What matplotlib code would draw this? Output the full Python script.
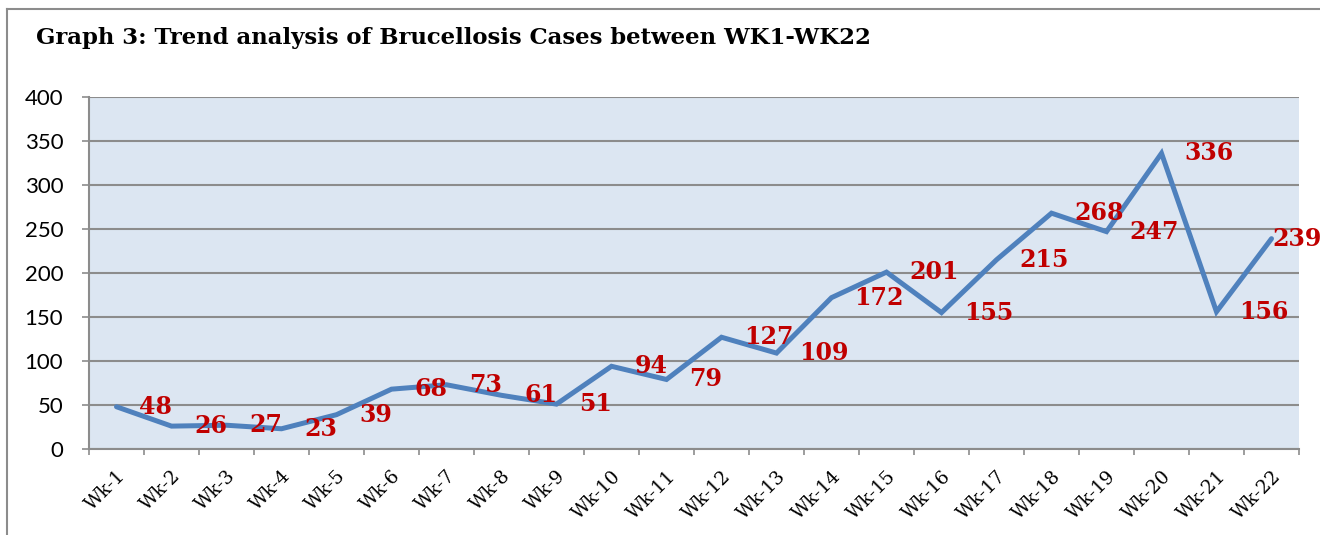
import matplotlib
matplotlib.use("Agg")
import matplotlib.pyplot as plt
from matplotlib.lines import Line2D

weeks = [f"Wk-{i}" for i in range(1, 23)]
cases = [48, 26, 27, 23, 39, 68, 73, 61, 51, 94, 79, 127, 109, 172, 201, 155,
         215, 268, 247, 336, 156, 239]
# data labels as shown in the reference (offset to the right of each point)
labels = ["48", "26", "27", "23", "39", "68", "73", "61", "51", "94", "79", "127",
          "109", "172", "201", "155", "215", "268", "247", "336", "156", "239"]
yticks = [0, 50, 100, 150, 200, 250, 300, 350, 400]
title = "Graph 3: Trend analysis of Brucellosis Cases between WK1-WK22"

W, H = 1320, 535
fig = plt.figure(figsize=(W / 100, H / 100), dpi=100)
fig.patch.set_facecolor("white")

# outer frame (left and top)
fig.add_artist(Line2D([7 / W, 7 / W], [0, 1 - 9 / H], transform=fig.transFigure,
                      color="#8c8c8c", lw=1.5))
fig.add_artist(Line2D([7 / W, 1], [1 - 9 / H, 1 - 9 / H], transform=fig.transFigure,
                      color="#8c8c8c", lw=1.5))

fig.text(36 / W, 1 - 38 / H, title, fontsize=16.4, fontweight="bold",
         family="DejaVu Serif", va="center", ha="left")

ax = fig.add_axes([89 / W, 1 - 449 / H, (1299 - 89) / W, (449 - 97) / H])
ax.set_facecolor("#DCE6F2")
x = [i + 0.5 for i in range(len(cases))]
ax.plot(x, cases, color="#4F81BD", lw=3.6, solid_capstyle="round",
        solid_joinstyle="miter", zorder=3)

for i, (xi, yi, lab) in enumerate(zip(x, cases, labels)):
    off = 23 if i < len(cases) - 1 else 1
    ax.annotate(lab, (xi, yi), xytext=(off, 0), textcoords="offset pixels",
                ha="left", va="center", color="#C00000", fontsize=17,
                fontweight="bold", family="DejaVu Serif", zorder=4,
                annotation_clip=False)

ax.set_xlim(0, len(cases))
ax.set_ylim(0, 400)
ax.set_yticks(yticks)
ax.yaxis.grid(True, color="#8c8c8c", lw=1.5)
ax.set_axisbelow(True)
ax.tick_params(axis="y", length=5, width=1.2, color="#8c8c8c", pad=13.5,
               labelsize=16)
for t in ax.get_yticklabels():
    t.set_family("Lato")

ax.set_xticks(range(len(cases) + 1))
ax.set_xticklabels([])
ax.set_xticks(x, minor=True)
ax.set_xticklabels(weeks, minor=True, rotation=45, ha="right",
                   rotation_mode="anchor", fontsize=13.5, family="DejaVu Serif")
ax.tick_params(axis="x", which="major", length=4.3, width=1.2, color="#8c8c8c")
ax.tick_params(axis="x", which="minor", length=0, pad=13)

for s in ["top", "right"]:
    ax.spines[s].set_visible(False)
for s in ["left", "bottom"]:
    ax.spines[s].set_color("#8c8c8c")
    ax.spines[s].set_linewidth(1.5)

fig.savefig("out.png", dpi=100)
